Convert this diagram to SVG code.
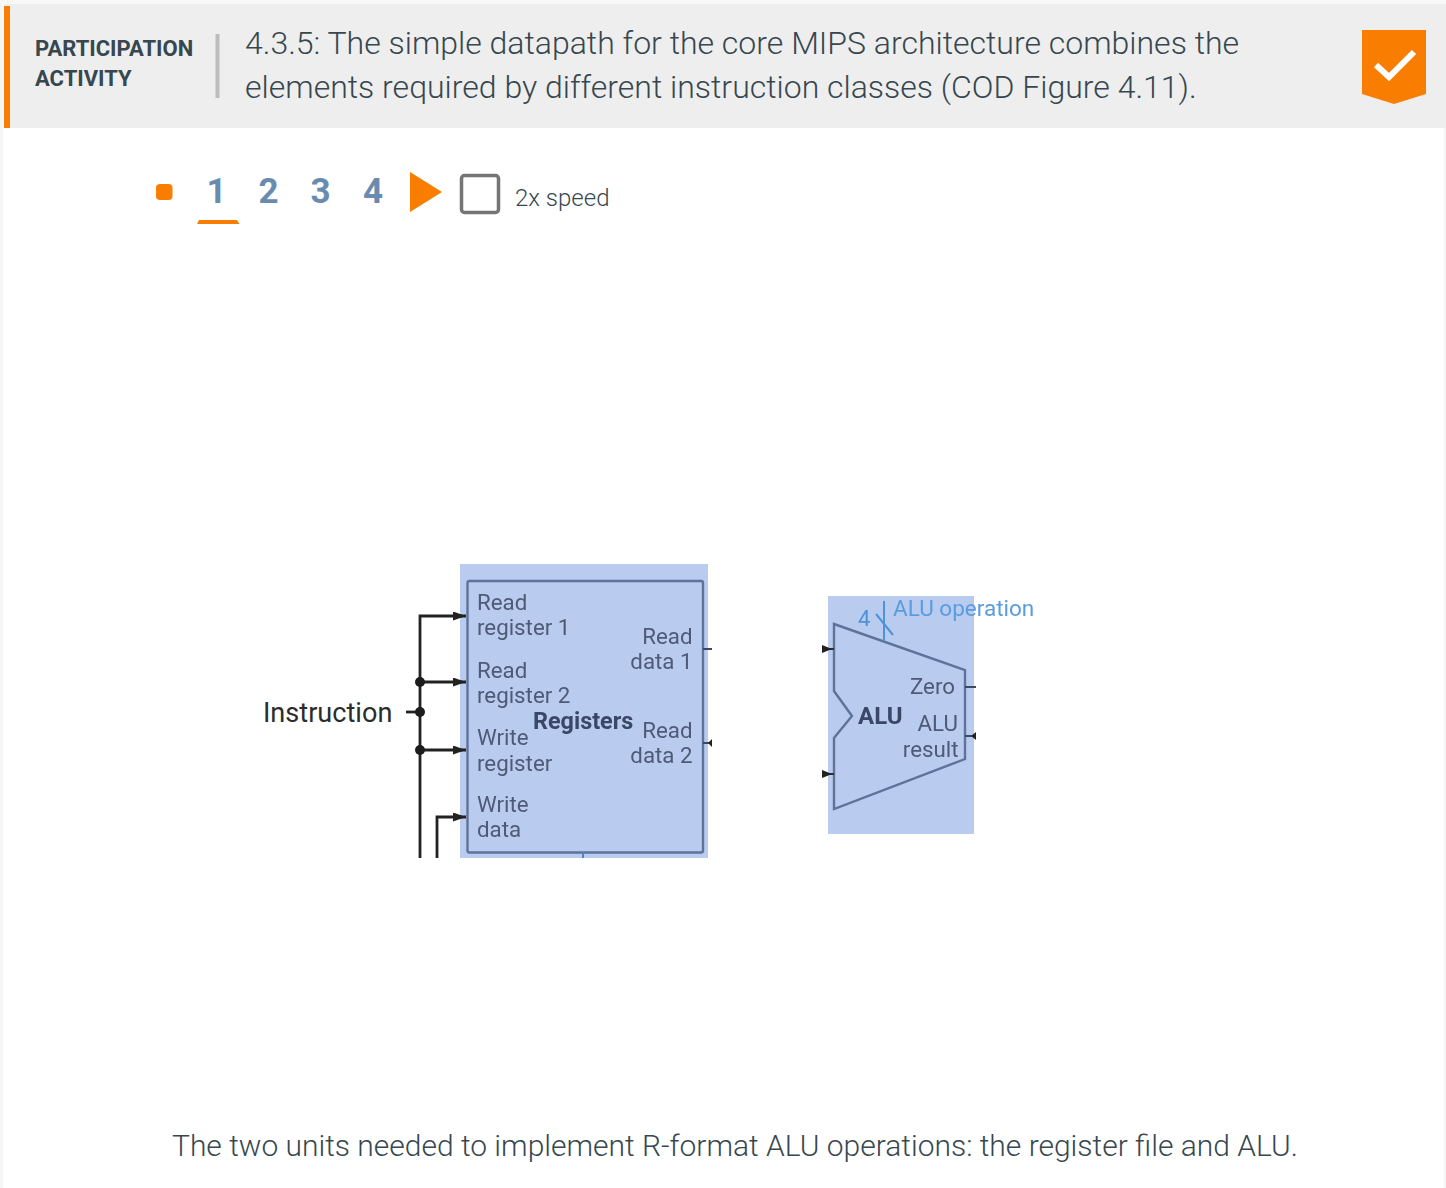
<svg xmlns="http://www.w3.org/2000/svg" width="1446" height="1188" viewBox="0 0 1446 1188">
<defs>
<marker id="ah" markerUnits="userSpaceOnUse" markerWidth="14" markerHeight="10" refX="13" refY="4.500" orient="auto"><path d="M0 0L13 4.500L0 9Z" fill="#222"/></marker>
<filter id="soft" x="-5%" y="-5%" width="110%" height="110%"><feGaussianBlur stdDeviation="0.600"/></filter>
</defs>
<style>
text{font-family:Roboto,"Liberation Sans",sans-serif}
.t{font-size:32px;font-weight:300;fill:#37474f}
.h{font-size:22px;font-weight:700;fill:#37474f}
.n{font-size:35px;font-weight:700;fill:#6a8bb0}
.d{font-size:22.300px;fill:#4d5a78}
.b{font-weight:700;fill:#3a4668}
.w{fill:none;stroke:#222;stroke-width:2.800}
.o{fill:none;stroke:#5f7299;stroke-width:2.400}
.dot{fill:#1c1c1c}
</style>
<rect width="1446" height="1188" fill="#fff"/>
<rect x="0" y="0" width="3" height="1188" fill="#f5f5f5"/>
<rect x="1444" y="0" width="2" height="1188" fill="#f5f5f5"/>
<rect x="0" y="0" width="1446" height="4" fill="#f8f8f8"/>
<g id="header">
<rect x="4" y="4" width="1442" height="124" fill="#eeeeee"/>
<rect x="4" y="6" width="6" height="122" fill="#f97d00"/>
<text class="h" x="35" y="56">PARTICIPATION</text>
<text class="h" x="35" y="86">ACTIVITY</text>
<rect x="215.500" y="34" width="4" height="64" fill="#bdbdbd"/>
<text class="t" x="245" y="54">4.3.5: The simple datapath for the core MIPS architecture combines the</text>
<text class="t" x="245" y="98">elements required by different instruction classes (COD Figure 4.11).</text>
<path id="badge" d="M1362 30H1426V94L1394 104L1362 94Z" fill="#f97d00"/>
<path d="M1376 65L1389 77L1414 52" fill="none" stroke="#fff" stroke-width="6"/>
</g>
<g id="controls">
<rect x="156" y="184" width="16.500" height="16" rx="4" fill="#f97d00"/>
<text class="n" x="216.500" y="203" text-anchor="middle">1</text>
<text class="n" x="268.500" y="203" text-anchor="middle">2</text>
<text class="n" x="320.500" y="203" text-anchor="middle">3</text>
<text class="n" x="373" y="203" text-anchor="middle">4</text>
<path d="M197 224L199 220H237L239.500 224Z" fill="#f97d00"/>
<path d="M410 172L442 192L410 212Z" fill="#f97d00"/>
<rect x="461.500" y="175.500" width="37" height="37" rx="3" fill="#fff" stroke="#757575" stroke-width="3.500"/>
<text x="515" y="206" font-size="24" font-weight="300" fill="#37474f">2x speed</text>
</g>
<g id="registers">
<rect x="460" y="564" width="248" height="294" fill="#b9cbee"/>
<g filter="url(#soft)">
<rect x="467.500" y="581" width="235.500" height="271.500" rx="2" class="o"/>
<text class="d" x="477" y="610">Read</text>
<text class="d" x="477" y="635">register 1</text>
<text class="d" x="477" y="678">Read</text>
<text class="d" x="477" y="703">register 2</text>
<text class="d" x="477" y="745">Write</text>
<text class="d" x="477" y="771">register</text>
<text class="d" x="477" y="812">Write</text>
<text class="d" x="477" y="837">data</text>
<text class="d" x="692.500" y="644" text-anchor="end">Read</text>
<text class="d" x="692.500" y="669" text-anchor="end">data 1</text>
<text class="d" x="692.500" y="738" text-anchor="end">Read</text>
<text class="d" x="692.500" y="763" text-anchor="end">data 2</text>
<text class="b" x="533" y="729" font-size="23.400">Registers</text>
</g>
</g>
<g id="alu">
<rect x="828" y="596" width="146" height="238" fill="#b9cbee"/>
<g filter="url(#soft)">
<path class="o" d="M834 624L965 670V759L834 809V738L852 716L834 691Z"/>
<text class="d" x="955" y="694" text-anchor="end">Zero</text>
<text class="d" x="958" y="731" text-anchor="end">ALU</text>
<text class="d" x="958.500" y="757" text-anchor="end">result</text>
<text class="b" x="858" y="724" font-size="24">ALU</text>
<text x="858" y="626" font-size="22" fill="#4e92db">4</text>
<text x="893" y="616" font-size="22.500" fill="#5a9ce0">ALU operation</text>
</g>
</g>
<g id="connectors" filter="url(#soft)">
<path class="w" d="M420 858V616H466" marker-end="url(#ah)"/>
<path class="w" d="M420 682H466" marker-end="url(#ah)"/>
<path class="w" d="M420 750H466" marker-end="url(#ah)"/>
<path class="w" d="M406 712H420"/>
<path class="w" d="M437 858V817H466" marker-end="url(#ah)"/>
<circle class="dot" cx="420" cy="682" r="5"/>
<circle class="dot" cx="420" cy="712" r="5"/>
<circle class="dot" cx="420" cy="750" r="5"/>
<path d="M703 649H712M703 743H712" fill="none" stroke="#3e4a60" stroke-width="2"/>
<path d="M708 743L712 739V747Z" fill="#222"/>
<path d="M583 852V858" stroke="#4e86c8" stroke-width="2" fill="none"/>
<path d="M822 649H834M822 774H834" stroke="#333" stroke-width="2" fill="none"/>
<path d="M822 645L832 649L822 653ZM822 770L832 774L822 778Z" fill="#222"/>
<path d="M965 687H976M965 736H976" stroke="#3e4a60" stroke-width="2" fill="none"/>
<path d="M971 736L976 732V740Z" fill="#222"/>
<path d="M884 601V641M876 614L893 635" stroke="#4e92db" stroke-width="2" fill="none"/>
</g>
<text x="263" y="722" font-size="27.100" fill="#2c2c2c">Instruction</text>
<text x="172" y="1156" font-size="29.970" font-weight="300" fill="#37474f">The two units needed to implement R-format ALU operations: the register file and ALU.</text>
</svg>
